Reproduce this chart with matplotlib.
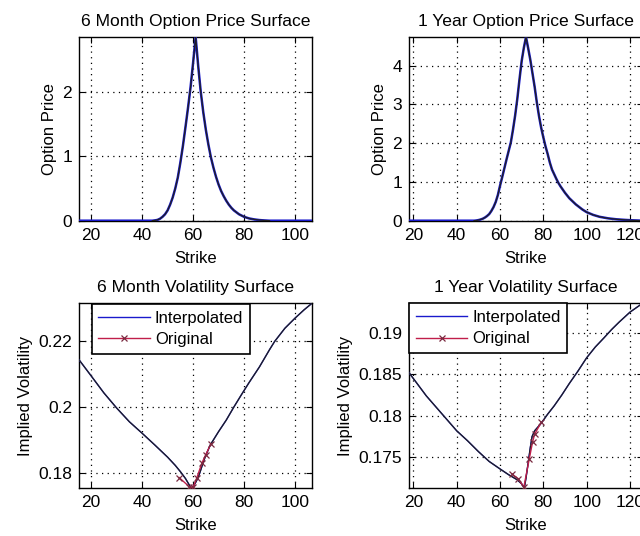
import matplotlib
matplotlib.use("Agg")
import matplotlib.pyplot as plt
import numpy as np

plt.rcParams['font.family'] = ['Liberation Sans', 'DejaVu Sans']
plt.rcParams['font.size'] = 12

TITLE_SIZE = 12.6
LABEL_SIZE = 12
TICK_SIZE = 12.5
LEGEND_SIZE = 12

# ---- 6 month option prices ----
strike_6m_price = [15.25, 30, 40, 44, 45, 46, 47, 48, 49, 50, 51, 52, 53, 54, 55, 56, 57, 58,
                   59, 60, 61, 62, 63, 64, 65, 66, 67, 68, 69, 70, 71, 72, 73, 74, 75, 76,
                   78, 80, 82, 84, 86, 88, 90, 95, 106.75]
price_6m = [0, 0, 0, 0, 0.005, 0.012, 0.03, 0.06, 0.1, 0.16, 0.25, 0.36, 0.5, 0.67, 0.9, 1.16,
            1.45, 1.75, 2.07, 2.45, 2.85, 2.4, 2.0, 1.68, 1.41, 1.18, 0.98, 0.82, 0.68, 0.56,
            0.46, 0.38, 0.31, 0.25, 0.2, 0.16, 0.1, 0.06, 0.035, 0.02, 0.01, 0.004, 0, 0, 0]

# ---- 1 year option prices ----
strike_1y_price = [18, 30, 40, 48, 49, 50, 51, 52, 53, 54, 55, 56, 57, 58, 59, 60, 61, 62, 63,
                   64, 65, 66, 67, 68, 69, 70, 71, 72, 73, 74, 75, 76, 77, 78, 79, 80, 81, 82,
                   83, 84, 85, 86, 87, 88, 90, 92, 95, 98, 100, 103, 106, 110, 114, 118, 122, 126]
price_1y = [0, 0, 0, 0, 0.005, 0.015, 0.03, 0.05, 0.08, 0.12, 0.17, 0.25, 0.35, 0.48, 0.66,
            0.9, 1.12, 1.35, 1.58, 1.8, 2.02, 2.35, 2.72, 3.15, 3.65, 4.12, 4.46, 4.74, 4.45,
            4.15, 3.8, 3.45, 3.05, 2.7, 2.4, 2.15, 1.92, 1.72, 1.5, 1.32, 1.2, 1.08, 0.97, 0.88,
            0.72, 0.58, 0.42, 0.29, 0.22, 0.15, 0.1, 0.06, 0.035, 0.02, 0.008, 0]

# ---- 6 month implied volatility ----
strike_6m_vol = [15.25, 20, 25, 30, 35, 40, 45, 50, 53, 55, 57, 59.2, 60, 61, 62, 63, 64, 65,
                 66.8, 70, 73, 76, 79, 82, 86, 90, 92, 96, 100, 103.5, 106.75]
vol_6m = [0.2144, 0.2095, 0.2043, 0.1997, 0.1955, 0.1920, 0.1884, 0.1847, 0.1822, 0.1803,
          0.1782, 0.1753, 0.1757, 0.1770, 0.1785, 0.1808, 0.1832, 0.1853, 0.1885, 0.1925,
          0.1960, 0.2000, 0.2038, 0.2075, 0.2122, 0.2175, 0.2200, 0.2240, 0.2271, 0.2296, 0.2317]
orig_strike_6m = [54.5, 58.5, 60, 61.5, 63.5, 65, 67]
orig_vol_6m = [0.1785, 0.1757, 0.1755, 0.1785, 0.1830, 0.1855, 0.1888]

# ---- 1 year implied volatility ----
strike_1y_vol = [18, 22, 26, 30, 35, 40, 45, 50, 55, 60, 64, 67.9, 70, 71.2, 72, 73.2, 74,
                 74.8, 76, 79, 82, 85, 88.5, 92, 96, 100, 104, 108, 111.5, 115, 120, 126]
vol_1y = [0.1852, 0.1838, 0.1824, 0.1812, 0.1797, 0.1782, 0.1770, 0.1757, 0.1745, 0.1736,
          0.1729, 0.1723, 0.1718, 0.1713, 0.1725, 0.1747, 0.1762, 0.1775, 0.1782, 0.1791,
          0.1802, 0.1812, 0.1825, 0.1839, 0.1854, 0.1870, 0.1883, 0.1894, 0.1904, 0.1913,
          0.1925, 0.1936]
orig_strike_1y = [65.5, 68.5, 71, 73.5, 75, 76, 79]
orig_vol_1y = [0.1730, 0.1724, 0.1714, 0.1748, 0.1768, 0.1778, 0.1792]

BLUE = '#1a1acc'
RED = '#c01e4a'

W, H = 640, 536
fig = plt.figure(figsize=(W / 100, H / 100), dpi=100)
fig.patch.set_facecolor('white')


def make_axes(left, top, right, bottom):
    return fig.add_axes([left / W, 1 - bottom / H, (right - left) / W, (bottom - top) / H])


def style(ax):
    ax.grid(True, color='black', linestyle=(0, (1, 3.5)), linewidth=0.9)
    ax.tick_params(direction='in', length=4, top=True, right=True, width=0.8, pad=5,
                   labelsize=TICK_SIZE)
    for s in ax.spines.values():
        s.set_linewidth(1.0)
        s.set_color('black')
    ax.set_xlabel('Strike', labelpad=6, fontsize=LABEL_SIZE)


ax1 = make_axes(79, 37, 312.3, 220.7)
ax2 = make_axes(409, 37, 643, 220.7)
ax3 = make_axes(79, 303, 312.3, 488)
ax4 = make_axes(409, 303, 643, 488)

# option price panels
for ax, k, p, title, xt in [
        (ax1, strike_6m_price, price_6m, '6 Month Option Price Surface', [20, 40, 60, 80, 100]),
        (ax2, strike_1y_price, price_1y, '1 Year Option Price Surface', [20, 40, 60, 80, 100, 120])]:
    k = np.asarray(k)
    p = np.asarray(p)
    ax.plot(k, p, color=BLUE, lw=1.8, zorder=3)
    idx = np.where(p > 0)[0]
    sl = slice(idx[0] - 1, idx[-1] + 2)
    ax.plot(k[sl], p[sl], color='#202020', lw=0.9, zorder=4)
    ax.set_xlim(k[0], k[-1])
    ax.set_ylim(0, p.max())
    ax.set_xticks(xt)
    ax.set_title(title, pad=8, fontsize=TITLE_SIZE)
    ax.set_ylabel('Option Price', labelpad=4, fontsize=LABEL_SIZE)
    style(ax)

ax1.set_yticks([0, 1, 2])
ax2.set_yticks([0, 1, 2, 3, 4])

# volatility panels
for ax, k, v, ok, ov, title, xt, yt, yfmt, anchor in [
        (ax3, strike_6m_vol, vol_6m, orig_strike_6m, orig_vol_6m, '6 Month Volatility Surface',
         [20, 40, 60, 80, 100], [0.18, 0.20, 0.22], ['0.18', '0.2', '0.22'], (0.054, 0.995)),
        (ax4, strike_1y_vol, vol_1y, orig_strike_1y, orig_vol_1y, '1 Year Volatility Surface',
         [20, 40, 60, 80, 100, 120], [0.175, 0.18, 0.185, 0.19],
         ['0.175', '0.18', '0.185', '0.19'], (0.0, 1.0))]:
    ax.plot(k, v, color=BLUE, lw=1.0, zorder=3, label='Interpolated')
    ax.plot(ok, ov, color=RED, lw=1.0, marker='x', markersize=5, markeredgewidth=0.9,
            markeredgecolor='#7a2a40', zorder=5, label='Original')
    ax.plot(k, v, color='#202020', lw=0.9, zorder=4)
    ax.set_xlim(k[0], k[-1])
    ax.set_ylim(min(v), max(v))
    ax.set_xticks(xt)
    ax.set_yticks(yt)
    ax.set_yticklabels(yfmt)
    ax.set_title(title, pad=8, fontsize=TITLE_SIZE)
    ax.set_ylabel('Implied Volatility', labelpad=4, fontsize=LABEL_SIZE)
    style(ax)
    leg = ax.legend(loc='upper left', bbox_to_anchor=anchor, frameon=True, fancybox=False,
                    edgecolor='black', framealpha=1, handlelength=3.1, borderaxespad=0,
                    labelspacing=0.4, handletextpad=0.3, borderpad=0.4, fontsize=LEGEND_SIZE)
    leg.get_frame().set_linewidth(1.2)
    leg.set_zorder(10)

fig.savefig('out.png', dpi=100)
